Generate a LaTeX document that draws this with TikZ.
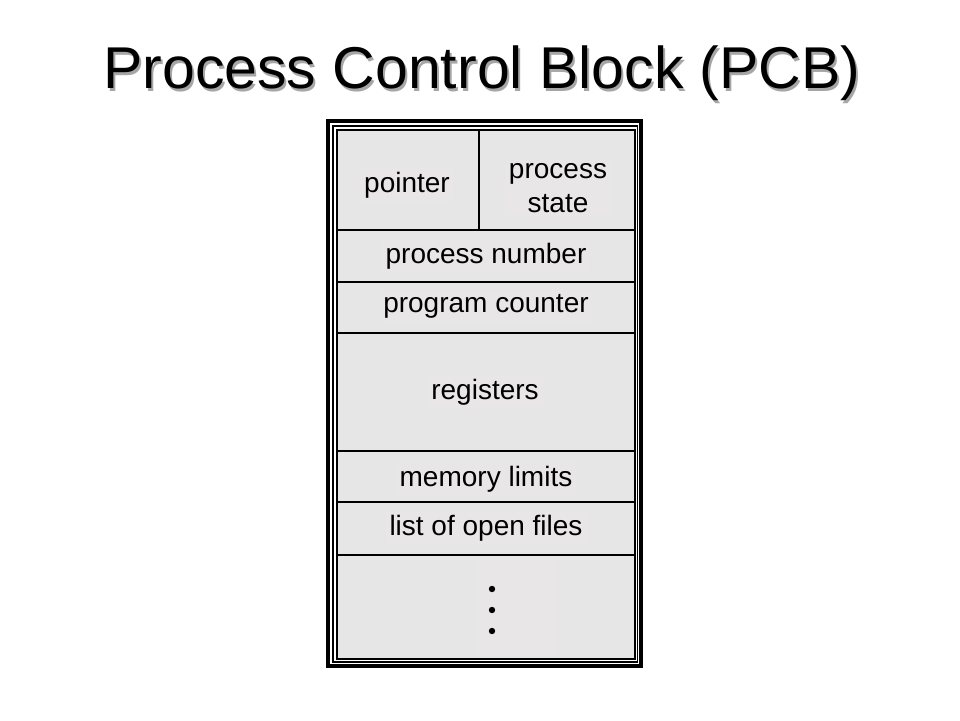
\documentclass[tikz,border=0pt]{standalone}
\usepackage{fontspec}
\setmainfont{Liberation Sans}
\usepackage{xcolor}
\usetikzlibrary{calc}
\definecolor{cellgray}{HTML}{E6E6E6}
\definecolor{textgray}{HTML}{E9E6E8}
\tikzset{
    lbl/.style={fill=textgray, inner sep=4pt, anchor=base, align=center,
        font=\fontsize{28}{34}\selectfont},
    sepline/.style={line width=2pt}
}

\begin{document}
\begin{tikzpicture}[x=1pt, y=-1pt]
                        \useasboundingbox (0,0) rectangle (960,720);
                        % title with its shadow
                        \node[anchor=base, black!35, font=\fontsize{59}{66}\selectfont] (titleshadow) at (484,91) {Process Control Block (PCB)};
                        \node[anchor=base, font=\fontsize{59}{66}\selectfont] (title) at (482,88) {Process Control Block (PCB)};

                        % frame
                        \fill[cellgray] (337,130) rectangle (635,659);
                        \draw[line width=4.5pt] (328,121) rectangle (641,666);
                        \draw[line width=1.6pt] (333,126) rectangle (637.5,662);
                        \draw[line width=1.8pt] (337,130) rectangle (635,659);
                        \foreach \y in {230,282,333,451,502,555}
                            \draw[sepline] (337,\y) -- (635,\y);
                        \draw[sepline] (479,130) -- (479,230);

                        % fields
                        \node[lbl] (pointer) at (407,192) {pointer};
                        \node[lbl] (pstate) at (558,212) {process\\state};
                        \node[lbl] (pnumber) at (486,263) {process number};
                        \node[lbl] (pcounter) at (486,312) {program counter};
                        \node[lbl] (regs) at (485,399) {registers};
                        \node[lbl] (memlim) at (486,486) {memory limits};
                        \node[lbl] (openfiles) at (486,535) {list of open files};
                        \fill[textgray] (476,560) rectangle (556,655);
                        \foreach \y in {589,610,631}
                            \fill (492,\y) circle (3.2pt);
                    \end{tikzpicture}
\end{document}
